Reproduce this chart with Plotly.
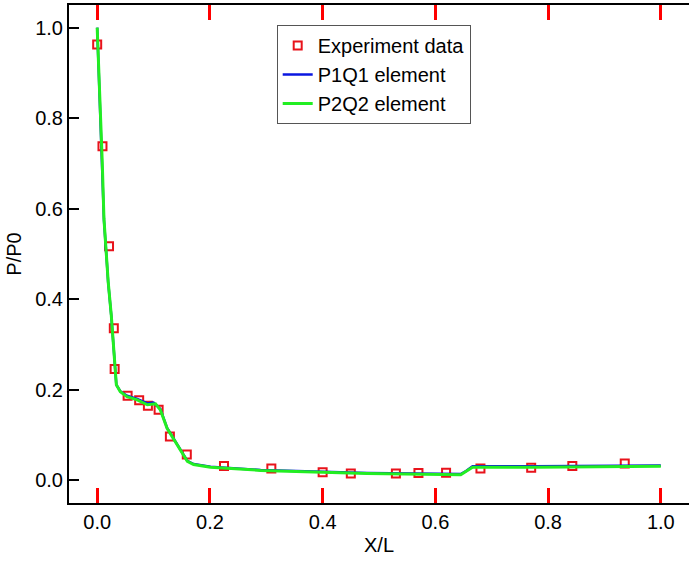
import plotly.graph_objects as go

# Experiment data
exp_x = [0.0, 0.0094, 0.021, 0.0295, 0.031, 0.054, 0.0745, 0.090, 0.109, 0.129,
         0.159, 0.225, 0.309, 0.400, 0.450, 0.530, 0.570, 0.619, 0.680, 0.770,
         0.843, 0.936]
exp_y = [0.963, 0.738, 0.517, 0.336, 0.246, 0.187, 0.177, 0.165, 0.156, 0.097,
         0.057, 0.032, 0.026, 0.018, 0.015, 0.015, 0.016, 0.017, 0.026, 0.028,
         0.032, 0.037]

# P2Q2 element curve
p2_x = [0.0, 0.005, 0.009, 0.012, 0.018, 0.0195, 0.025, 0.0295, 0.0325, 0.034,
        0.041, 0.053, 0.071, 0.089, 0.1035, 0.112, 0.124, 0.142, 0.160, 0.171,
        0.201, 0.290, 0.379, 0.479, 0.645, 0.655, 0.666, 0.775, 1.0]
p2_y = [1.0, 0.843, 0.703, 0.578, 0.468, 0.439, 0.365, 0.292, 0.233, 0.211,
        0.196, 0.185, 0.178, 0.167, 0.169, 0.156, 0.115, 0.079, 0.042, 0.035,
        0.029, 0.022, 0.018, 0.015, 0.0125, 0.020, 0.029, 0.029, 0.031]

# P1Q1 element curve
p1_x = [0.0, 0.005, 0.009, 0.012, 0.018, 0.0195, 0.025, 0.0295, 0.0325, 0.034,
        0.041, 0.053, 0.071, 0.089, 0.1, 0.112, 0.124, 0.142, 0.160, 0.171,
        0.201, 0.290, 0.379, 0.479, 0.645, 0.655, 0.666, 0.775, 1.0]
p1_y = [1.0, 0.840, 0.700, 0.575, 0.466, 0.437, 0.364, 0.291, 0.232, 0.211,
        0.197, 0.187, 0.180, 0.170, 0.172, 0.158, 0.116, 0.080, 0.043, 0.036,
        0.030, 0.023, 0.019, 0.016, 0.014, 0.021, 0.031, 0.031, 0.033]

FONT = 'Liberation Sans, Arial, sans-serif'

fig = go.Figure()
fig.add_trace(go.Scatter(x=exp_x, y=exp_y, mode='markers', name='Experiment data',
                         marker=dict(symbol='square-open', size=8, color='#e8131b',
                                     line=dict(width=2, color='#e8131b'))))
fig.add_trace(go.Scatter(x=p1_x, y=p1_y, mode='lines', name='P1Q1 element',
                         line=dict(color='#0a16e0', width=2.5)))
fig.add_trace(go.Scatter(x=p2_x, y=p2_y, mode='lines', name='P2Q2 element',
                         line=dict(color='#22ee22', width=3)))

# x axis: exactly the tick set-up that drew ticks in the earlier test
fig.update_xaxes(range=[-0.05, 1.05], dtick=0.2, tickformat='.1f',
                 showline=True, linecolor='black', linewidth=2, mirror='ticks',
                 ticks='inside', ticklen=15, tickwidth=3, tickcolor='red',
                 tickfont=dict(family=FONT, size=20, color='black'),
                 title=dict(text='X/L', standoff=6,
                            font=dict(family=FONT, size=20, color='black')))
# y axis: black ticks, no minor ticks, no mirror
fig.update_yaxes(range=[-0.05, 1.05], dtick=0.2, tickformat='.1f',
                 showline=True, linecolor='black', linewidth=2,
                 ticks='inside', ticklen=10, tickwidth=2, tickcolor='black',
                 tickfont=dict(family=FONT, size=20, color='black'),
                 title=dict(text='P/P0', standoff=8,
                            font=dict(family=FONT, size=20, color='black')))

fig.update_layout(
    template='simple_white',
    width=692, height=564,
    margin=dict(l=69, r=3, t=3, b=61),
    legend=dict(x=0.335, y=0.96, xanchor='left', yanchor='top',
                bgcolor='white', bordercolor='#555555', borderwidth=1,
                font=dict(family=FONT, size=20, color='black'),
                tracegroupgap=0),
    showlegend=True,
)

fig.write_html("out.html", config={'displayModeBar': False},
               post_script="document.body.style.margin='0';")
